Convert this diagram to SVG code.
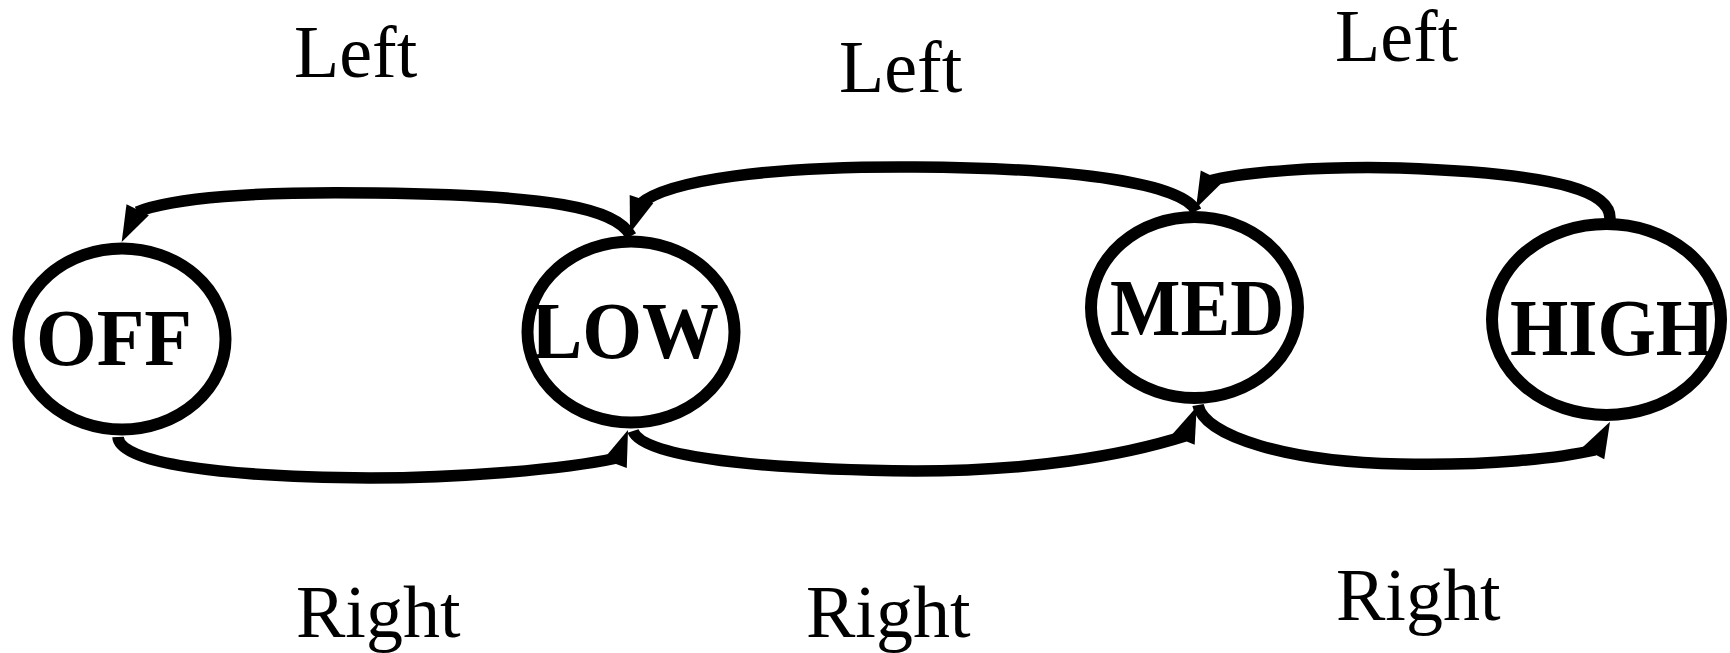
<svg xmlns="http://www.w3.org/2000/svg" xmlns:xlink="http://www.w3.org/1999/xlink" width="1730" height="653" viewBox="0 0 1730 653">
  <style>
    .state { fill: #ffffff; stroke: #000000; stroke-width: 12; }
    .state-label { font-family: "Liberation Serif", "Times New Roman", serif; font-weight: bold; font-size: 80px; fill: #000000; text-anchor: middle; }
    .edge { fill: none; stroke: #000000; stroke-width: 11.5; stroke-linecap: butt; }
    .edge-label { font-family: "Liberation Serif", "Times New Roman", serif; font-size: 74px; fill: #000000; }
  </style>
  <defs>
    <!-- arrowhead pointing along +x, tip at the origin -->
    <path id="arrowhead" d="M0,0 L-36,-12.5 L-36,12.5 Z" fill="#000000"/>
  </defs>
  <rect width="1730" height="653" fill="#ffffff"/>

  <g id="node-off">
    <ellipse class="state" cx="122" cy="339" rx="103.5" ry="90.5"/>
    <text class="state-label" x="114" y="365" textLength="156" lengthAdjust="spacingAndGlyphs">OFF</text>
  </g>
  <g id="node-low">
    <ellipse class="state" cx="631" cy="332" rx="103.5" ry="90.5"/>
    <text class="state-label" x="625" y="358" textLength="188" lengthAdjust="spacingAndGlyphs">LOW</text>
  </g>
  <g id="node-med">
    <ellipse class="state" cx="1194.5" cy="307.5" rx="103.5" ry="90.5"/>
    <text class="state-label" x="1197" y="335" textLength="174" lengthAdjust="spacingAndGlyphs">MED</text>
  </g>
  <g id="node-high">
    <ellipse class="state" cx="1606.5" cy="319.5" rx="114.5" ry="95.5"/>
    <text class="state-label" x="1612" y="355" textLength="204" lengthAdjust="spacingAndGlyphs">HIGH</text>
  </g>

  <g id="connectors">
    <!-- Left transitions (upper arcs) -->
    <path class="edge" d="M631,236 C616,208 550,195 375,193 C255,191 172,198 137,212"/>
    <use xlink:href="#arrowhead" href="#arrowhead" transform="translate(121.7,242) rotate(116.4)"/>

    <path class="edge" d="M1196,211 C1183,184 1080,168 915,167 C770,166 668,180 640,204"/>
    <use xlink:href="#arrowhead" href="#arrowhead" transform="translate(630,233) rotate(108.7)"/>

    <path class="edge" d="M1610,219 C1611,194 1570,174 1400,168 C1320,166 1243,172 1209,181"/>
    <use xlink:href="#arrowhead" href="#arrowhead" transform="translate(1196,208.3) rotate(116.3)"/>

    <!-- Right transitions (lower arcs) -->
    <path class="edge" d="M118,437 C119,463 220,477 370,478 C455,478 562,470 617,458"/>
    <use xlink:href="#arrowhead" href="#arrowhead" transform="translate(628,430) rotate(-69)"/>

    <path class="edge" d="M633,431 C641,455 740,469 915,471 C1030,471 1122,456 1185,436"/>
    <use xlink:href="#arrowhead" href="#arrowhead" transform="translate(1196.7,406.7) rotate(-67.8)"/>

    <path class="edge" d="M1198,405 C1204,437 1290,462 1400,464 C1490,466 1560,458 1595,450"/>
    <use xlink:href="#arrowhead" href="#arrowhead" transform="translate(1610,421.7) rotate(-62.2)"/>
  </g>

  <g id="edge-labels">
    <text class="edge-label" x="294" y="77">Left</text>
    <text class="edge-label" x="839" y="92">Left</text>
    <text class="edge-label" x="1335" y="61">Left</text>
    <text class="edge-label" x="296" y="637">Right</text>
    <text class="edge-label" x="806" y="637">Right</text>
    <text class="edge-label" x="1336" y="620">Right</text>
  </g>
</svg>
